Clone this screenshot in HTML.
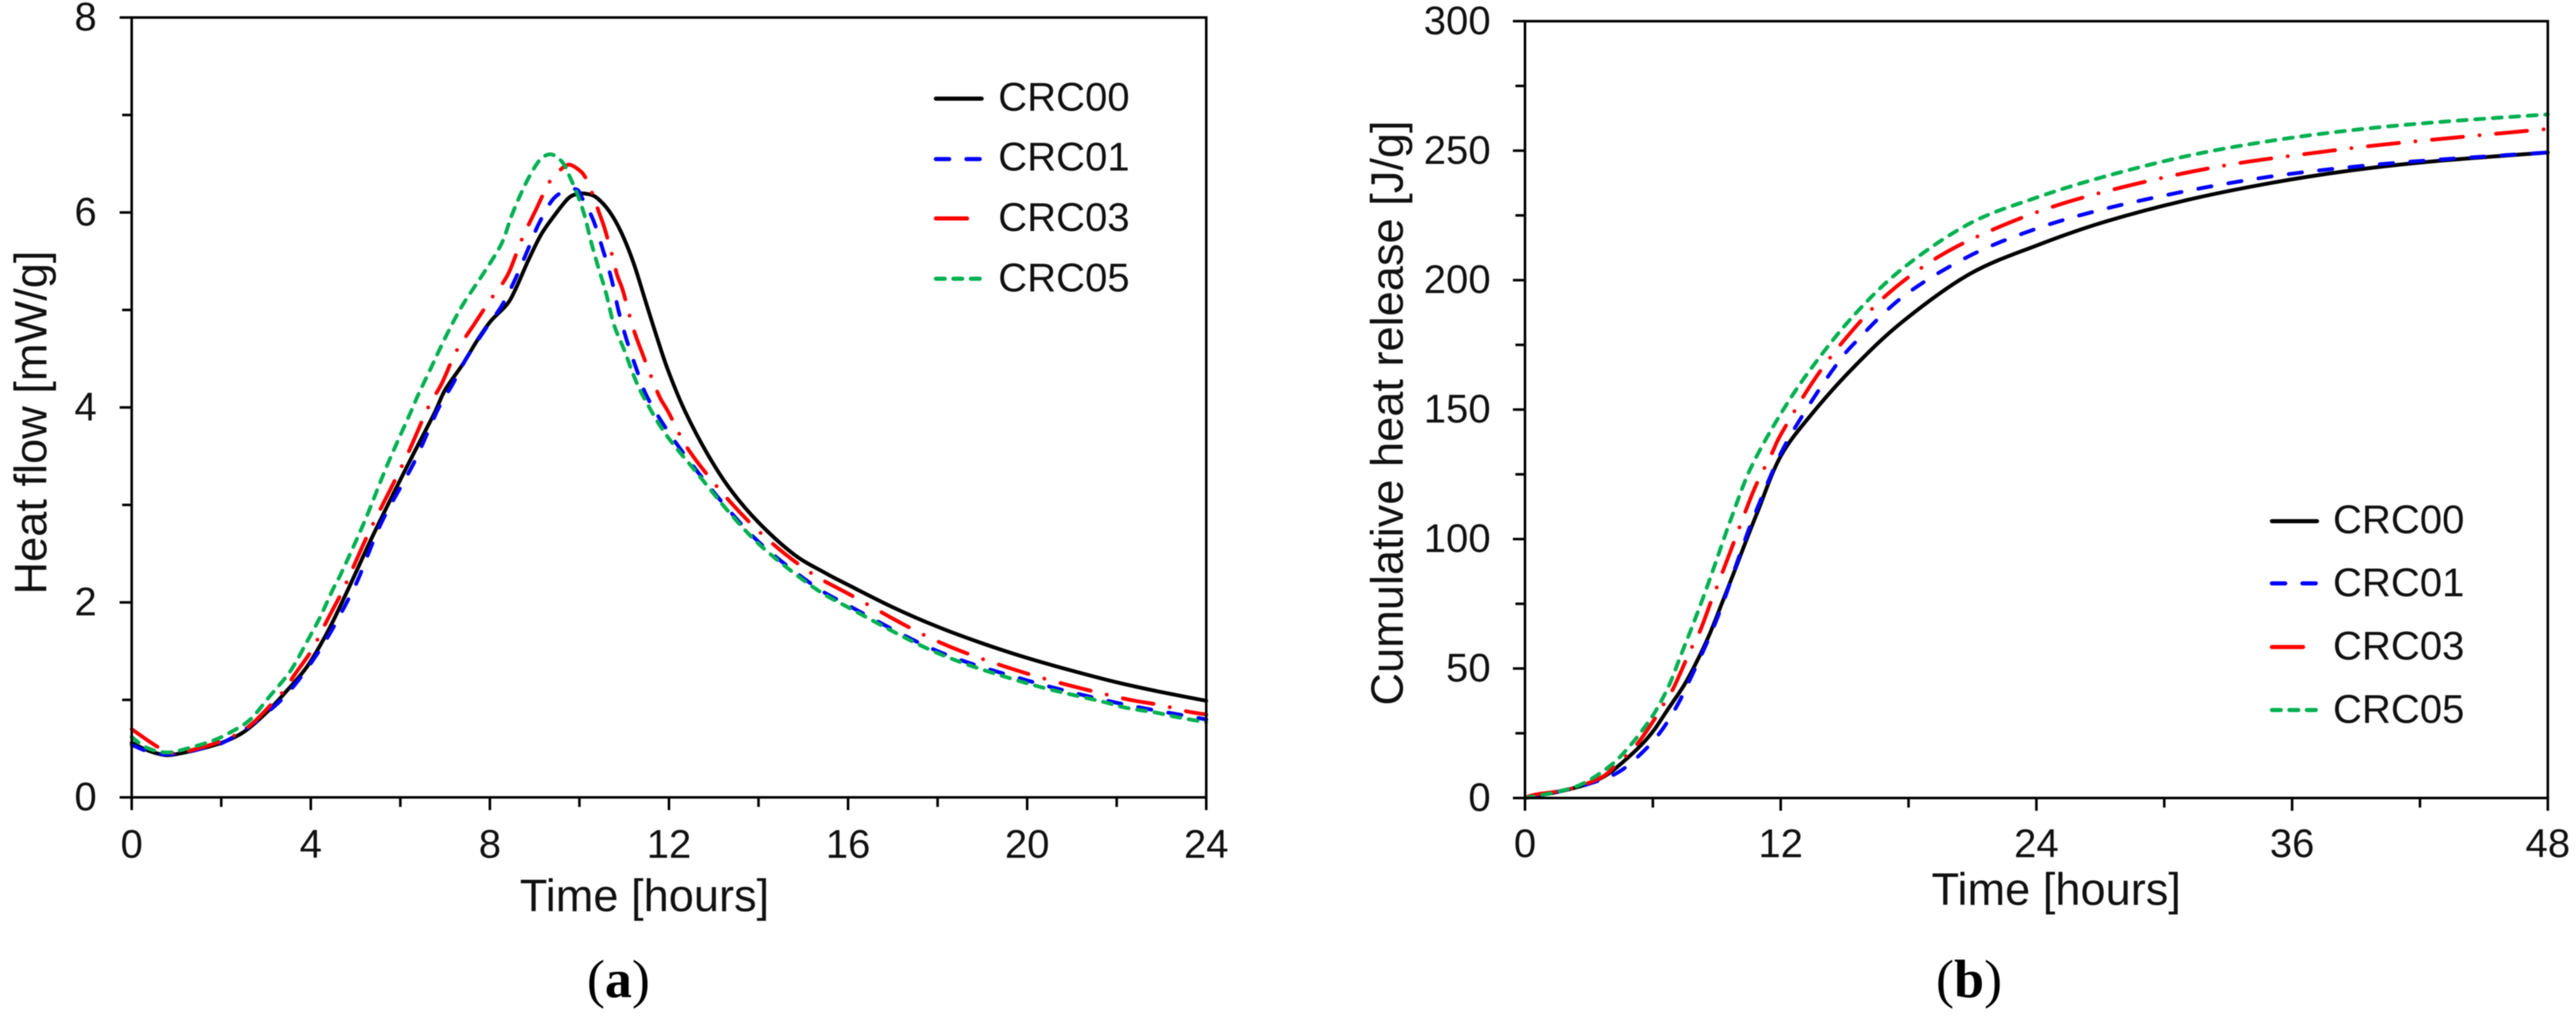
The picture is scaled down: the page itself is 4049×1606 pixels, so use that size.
<!DOCTYPE html>
<html lang="en">
<head>
<meta charset="utf-8">
<title>Heat flow and cumulative heat release</title>
<style>
html,body{margin:0;padding:0;background:#fff;}
svg{display:block;filter:blur(0.7px);}
text{font-family:"Liberation Sans",sans-serif;fill:#111;}
.tick{font-size:63px;}
.title{font-size:71px;}
.leg{font-size:63px;}
.cap{font-family:"Liberation Serif",serif;font-size:85px;fill:#000;}
</style>
</head>
<body>
<svg id="figure" xmlns="http://www.w3.org/2000/svg" width="4049" height="1606" viewBox="0 0 4049 1606">
  <rect x="0" y="0" width="4049" height="1606" fill="#fff"/>
  <g id="panel-a">
    <g id="a-marks"></g>
    <g id="a-axes"></g>
    <text class="title" x="1013" y="1432" text-anchor="middle">Time [hours]</text>
    <text class="title" transform="translate(73,664) rotate(-90)" text-anchor="middle">Heat flow [mW/g]</text>
    <text class="cap" x="972" y="1567" text-anchor="middle">(<tspan font-weight="bold">a</tspan>)</text>
    <g id="a-legend"></g>
  </g>
  <g id="panel-b">
    <g id="b-marks"></g>
    <g id="b-axes"></g>
    <text class="title" x="3232" y="1422" text-anchor="middle">Time [hours]</text>
    <text class="title" transform="translate(2205,649) rotate(-90)" text-anchor="middle">Cumulative heat release [J/g]</text>
    <text class="cap" x="3095" y="1567" text-anchor="middle">(<tspan font-weight="bold">b</tspan>)</text>
    <g id="b-legend"></g>
  </g>
</svg>
<script>
// Panel (a): heat flow, hours vs mW/g
const aHoursCRC00 = [0,0.37,0.78,1.18,1.56,2.03,2.5,2.98,3.45,3.93,4.4,4.87,5.35,5.85,6.3,6.76,7.0,7.39,7.72,8.02,8.37,8.56,8.86,9.14,9.41,9.74,9.96,10.18,10.39,10.67,10.94,11.21,11.49,11.71,11.98,12.36,12.85,13.37,14,14.8,15.5,16,17,18,19,20,21,22,23,24];
const aFlowCRC00 = [0.56,0.48,0.433,0.46,0.5,0.564,0.67,0.857,1.086,1.35,1.72,2.17,2.65,3.12,3.53,3.94,4.18,4.44,4.69,4.886,5.05,5.2,5.51,5.77,5.95,6.14,6.19,6.19,6.15,6.01,5.79,5.48,5.07,4.75,4.38,3.96,3.53,3.16,2.82,2.49,2.3,2.18,1.95,1.75,1.58,1.43,1.3,1.18,1.08,0.99];
const aHoursCRC01 = [0,0.37,0.78,1.18,1.56,2.03,2.62,3.24,3.67,4.09,4.45,4.78,5.06,5.58,6.3,6.84,7.17,7.47,7.85,8.26,8.56,8.84,9.11,9.46,9.9,10.07,10.31,10.53,10.72,10.88,11.05,11.27,11.51,12,12.64,13.37,14.1,15.18,16,18,20,22,24];
const aFlowCRC01 = [0.54,0.47,0.44,0.46,0.5,0.56,0.727,0.955,1.17,1.435,1.7,1.98,2.24,2.82,3.43,3.98,4.24,4.5,4.77,5.04,5.31,5.61,5.9,6.16,6.24,6.14,5.92,5.61,5.31,4.98,4.7,4.4,4.11,3.74,3.34,2.93,2.58,2.19,1.97,1.5,1.2,0.97,0.8];
const aHoursCRC03 = [0,0.59,0.97,1.7,2.32,2.7,3.15,3.41,3.64,4.02,4.38,4.69,4.85,5.3,5.8,6.2,6.57,6.73,6.93,7.22,7.41,7.63,8.02,8.25,8.44,8.7,8.85,9.02,9.34,9.58,9.76,9.95,10.12,10.3,10.43,10.56,10.75,10.84,10.97,11.15,11.27,11.4,11.66,11.81,11.99,12.46,13.37,14.27,15.18,16,18,20,22,22.97,23.59,24];
const aFlowCRC03 = [0.7,0.516,0.455,0.53,0.64,0.76,0.97,1.1,1.26,1.51,1.83,2.1,2.26,2.72,3.18,3.56,3.95,4.09,4.25,4.55,4.69,4.84,5.11,5.25,5.4,5.71,5.86,6.02,6.32,6.44,6.49,6.45,6.37,6.18,6.01,5.84,5.53,5.36,5.2,4.89,4.72,4.56,4.25,4.09,3.95,3.55,3.03,2.62,2.3,2.09,1.6,1.27,1.03,0.947,0.88,0.85];
const aHoursCRC05 = [0,0.33,0.78,1.23,1.84,2.27,2.65,3.07,3.55,3.93,4.21,4.49,4.69,5.2,5.7,6.24,6.4,6.7,7.03,7.39,7.85,8.26,8.48,8.7,8.92,9.14,9.38,9.63,9.79,9.96,10.12,10.26,10.42,10.59,10.77,11,11.21,11.43,11.92,12.64,13.37,14.1,15.18,16,18,20,21.7,22.2,22.87,23.35,24];
const aFlowCRC05 = [0.62,0.51,0.46,0.5,0.586,0.684,0.8,1.03,1.3,1.61,1.85,2.13,2.31,2.83,3.4,3.96,4.13,4.42,4.74,5.05,5.37,5.68,5.96,6.2,6.4,6.55,6.595,6.51,6.36,6.18,5.96,5.7,5.44,5.18,4.85,4.59,4.33,4.11,3.73,3.32,2.91,2.56,2.17,1.95,1.48,1.17,0.98,0.92,0.87,0.823,0.77];
const aXMajor = [0,4,8,12,16,20,24];
const aXMinor = [2,6,10,14,18,22];
const aYMajor = [0,2,4,6,8];
const aYMinor = [1,3,5,7];

// Panel (b): cumulative heat release, hours vs J/g
const bHoursCRC00 = [0,1.38,2.28,3.07,3.87,4.67,5.47,6.06,6.66,7.46,8.05,8.65,9.25,9.84,10.44,10.94,12,13.53,15.5,17.8,20.9,24.05,27.2,31.1,35,38.9,42.8,48];
const bHeatCRC00 = [0,2.1,3.8,5.8,9.1,14.4,20.6,26.3,33.7,43.5,52.5,63,75.4,87.8,100.7,111,132,149,167,184.5,202.5,213.5,222.5,231,237.5,242.5,246,249.3];
const bHoursCRC01 = [0,1.4,2.97,4.37,5.47,6.36,7.16,7.8,8.4,8.95,9.44,9.89,10.34,10.84,12,13.2,14.5,15.5,17.8,20.9,24.05,27.2,31.1,35,38.9,42.8,48];
const bHeatCRC01 = [0,2.2,5.4,9.9,17.3,25.5,36,46.8,57.4,68,78.7,89.5,100,110.7,133,150,166,176,194,209.5,220,227.5,234.5,240,243.8,246.5,249.3];
const bHoursCRC03 = [0,0.49,2.08,3.57,4.17,4.77,5.32,6.11,6.56,6.96,7.56,7.9,8.25,8.75,9.05,9.35,9.79,10.04,10.8,11.58,12.05,13.53,15.1,17,19.4,22.1,25.2,29.1,33,36.9,40.8,48];
const bHeatCRC03 = [0,1.3,3.4,7.9,12,16.5,21.4,30.8,36.9,42.3,53.3,59.4,65.2,76.3,82.4,89,98.5,104,120,133,141,161,178,194.5,209,220,229.5,238,244.5,249,252.8,258.4];
const bHoursCRC05 = [0,1.58,2.78,4.07,4.97,5.67,6.16,6.76,7.31,7.76,8.2,8.6,8.95,9.35,9.7,10.6,12.05,13.53,15.5,17.8,20.9,24.05,27.2,31.1,35,38.9,42.8,48];
const bHeatCRC05 = [0,2.5,5.8,12.9,20.6,28,34,43.5,55,64.4,73.8,82.8,91,100.5,108.5,127.5,149,167,187,205,222,232,240,248,253.8,258,261,264];
const bXMajor = [0,12,24,36,48];
const bXMinor = [6,18,30,42];
const bYMajor = [0,50,100,150,200,250,300];
const bYMinor = [25,75,125,175,225,275];

const seriesNames = ['CRC00','CRC01','CRC03','CRC05'];

const NS = 'http://www.w3.org/2000/svg';
const COLORS = ['#000000','#0000ff','#ff0000','#00b050'];
const DASHES = ['none','21 27','49 26 0.1 26','14 13.5'];
const LW = 6;

function mk(parent, tag, geom, textValue){
  const el = document.createElementNS(NS, tag);
  for (const k in geom) el.setAttribute(k, geom[k]);
  if (textValue !== undefined) el.textContent = textValue;
  parent.appendChild(el);
  return el;
}
function smoothPath(xs, ys){
  let d = 'M' + xs[0].toFixed(1) + ' ' + ys[0].toFixed(1);
  const n = xs.length;
  for (let i = 0; i < n - 1; i++){
    const x0 = xs[Math.max(i-1,0)], y0 = ys[Math.max(i-1,0)];
    const x1 = xs[i], y1 = ys[i], x2 = xs[i+1], y2 = ys[i+1];
    const x3 = xs[Math.min(i+2,n-1)], y3 = ys[Math.min(i+2,n-1)];
    const c1x = x1 + (x2-x0)/6, c1y = y1 + (y2-y0)/6;
    const c2x = x2 - (x3-x1)/6, c2y = y2 - (y3-y1)/6;
    d += 'C' + c1x.toFixed(1) + ' ' + c1y.toFixed(1) + ' ' + c2x.toFixed(1) + ' ' + c2y.toFixed(1) + ' ' + x2.toFixed(1) + ' ' + y2.toFixed(1);
  }
  return d;
}
function drawAxes(group, prefix, box, sx, sy, xMajor, xMinor, yMajor, yMinor, xLabelBase, yLabelX){
  const axisStyle = {stroke:'#000','stroke-width':4,'stroke-linecap':'butt'};
  const frame = mk(group,'rect',{x:box.left,y:box.top,width:box.right-box.left,height:box.bottom-box.top,fill:'none',stroke:'#000','stroke-width':4});
  
  
  xMajor.forEach(function(v){
    const t = mk(group,'line',Object.assign({x1:sx(v),x2:sx(v),y1:box.bottom,y2:box.bottom+20},axisStyle));
    
    
    const l = mk(group,'text',{class:'tick',x:sx(v),y:xLabelBase,'text-anchor':'middle'},String(v));
    
    
  });
  xMinor.forEach(function(v){
    const t = mk(group,'line',Object.assign({x1:sx(v),x2:sx(v),y1:box.bottom,y2:box.bottom+15},axisStyle));
    
    
  });
  yMajor.forEach(function(v){
    const t = mk(group,'line',Object.assign({x1:box.left-19,x2:box.left,y1:sy(v),y2:sy(v)},axisStyle));
    
    
    const l = mk(group,'text',{class:'tick',x:yLabelX,y:sy(v)+20.5,'text-anchor':'end'},String(v));
    
    
  });
  yMinor.forEach(function(v){
    const t = mk(group,'line',Object.assign({x1:box.left-15,x2:box.left,y1:sy(v),y2:sy(v)},axisStyle));
    
    
  });
}
function drawSeries(group, prefix, sx, sy, xsList, ysList){
  xsList.forEach(function(xs, i){
    const px = xs.map(sx);
    const py = ysList[i].map(sy);
    const attrs = {d:smoothPath(px,py),fill:'none',stroke:COLORS[i],'stroke-width':LW,'stroke-linecap':'round','stroke-linejoin':'round'};
    if (DASHES[i] !== 'none') attrs['stroke-dasharray'] = DASHES[i];
    const p = mk(group,'path',attrs);
    
    
  });
}
function drawLegend(group, prefix, lineX1, lineX2, textX, lineYs, baseYs){
  seriesNames.forEach(function(name, i){
    const attrs = {x1:lineX1,x2:lineX2,y1:lineYs[i],y2:lineYs[i],stroke:COLORS[i],'stroke-width':LW+0.5,'stroke-linecap':'round'};
    if (DASHES[i] !== 'none') attrs['stroke-dasharray'] = DASHES[i];
    const s = mk(group,'line',attrs);
    
    
    const t = mk(group,'text',{class:'leg',x:textX,y:baseYs[i]},name);
    
    
  });
}

const aBox = {left:207,right:1896,top:27.5,bottom:1253};
const aSx = function(h){ return aBox.left + h/24*(aBox.right-aBox.left); };
const aSy = function(v){ return aBox.bottom - v/8*(aBox.bottom-aBox.top); };
const bBox = {left:2397,right:4004.7,top:33.3,bottom:1254};
const bSx = function(h){ return bBox.left + h/48*(bBox.right-bBox.left); };
const bSy = function(v){ return bBox.bottom - v/300*(bBox.bottom-bBox.top); };

drawSeries(document.getElementById('a-marks'),'panel-a',aSx,aSy,
  [aHoursCRC00,aHoursCRC01,aHoursCRC03,aHoursCRC05],[aFlowCRC00,aFlowCRC01,aFlowCRC03,aFlowCRC05]);
drawAxes(document.getElementById('a-axes'),'panel-a',aBox,aSx,aSy,aXMajor,aXMinor,aYMajor,aYMinor,1348,152);
drawLegend(document.getElementById('a-legend'),'panel-a',1471,1543,1569,[155,250,343.3,438],[174,268,363,458]);

drawSeries(document.getElementById('b-marks'),'panel-b',bSx,bSy,
  [bHoursCRC00,bHoursCRC01,bHoursCRC03,bHoursCRC05],[bHeatCRC00,bHeatCRC01,bHeatCRC03,bHeatCRC05]);
drawAxes(document.getElementById('b-axes'),'panel-b',bBox,bSx,bSy,bXMajor,bXMinor,bYMajor,bYMinor,1347,2343);
drawLegend(document.getElementById('b-legend'),'panel-b',3571,3642,3667,[819,916.7,1016.7,1115.7],[838,937,1036.7,1136]);
</script>
</body>
</html>
